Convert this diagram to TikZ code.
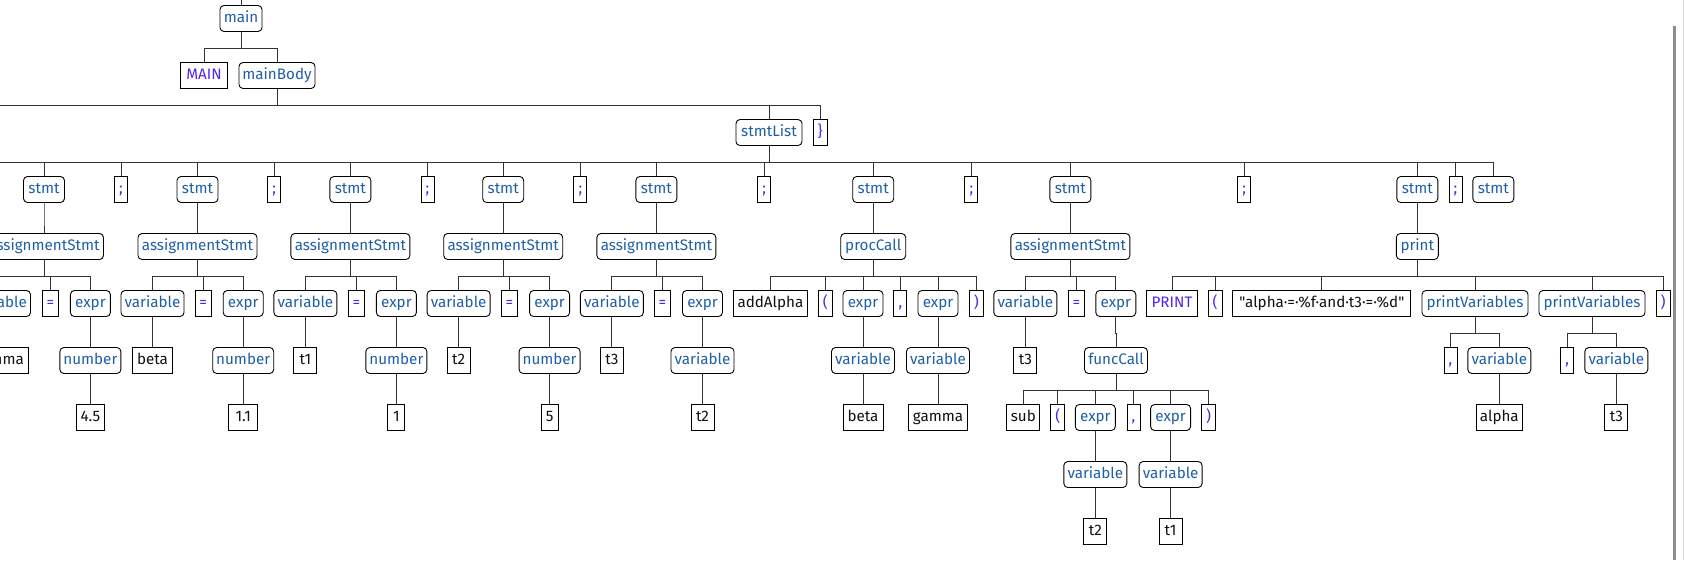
\documentclass[tikz,border=0pt]{standalone}
\usepackage{fontspec}
\setmainfont{Fira Sans}[Ligatures=TeXOff]
\definecolor{ruleblue}{HTML}{1F5FA6}
\definecolor{tokviolet}{HTML}{5522EE}
\definecolor{termblack}{HTML}{111111}
\definecolor{linegray}{HTML}{333333}
\definecolor{sbgray}{HTML}{8E8E8E}
\definecolor{edgegray}{HTML}{DADADA}
\newcommand\treefont{\fontsize{15.2}{17}\selectfont}
\newcommand\tedge[2]{\draw[conn] (#1.south) |- ([yshift=14pt]#2.north) -- (#2.north);}
\tikzset{
  box/.style={draw=black, line width=0.9pt, minimum height=26pt, inner xsep=2pt, inner ysep=0pt,
    font=\treefont, text height=11pt, text depth=3.5pt, fill=white},
  rule/.style={box, rounded corners=4pt, text=ruleblue},
  tok/.style={box, text=tokviolet},
  term/.style={box, text=termblack},
  w/.style={minimum width=#1},
  conn/.style={draw=linegray, line width=0.9pt},
}
\begin{document}
\begin{tikzpicture}[x=1pt,y=-1pt]
\clip (0,0) rectangle (1685,560);
\fill[white] (0,0) rectangle (1685,560);
% scrollbar
\fill[sbgray] (1672.7,26) rectangle (1676,560);
\draw[edgegray, line width=1pt] (1683.5,0) -- (1683.5,560);

% L0 - L2
\node[rule,w=42] (main) at (241,18.5) {main};
\coordinate (mtop) at (241,0);
\node[tok,w=47] (MAIN) at (204,75.5) {MAIN};
\node[rule,w=76] (mainBody) at (277,75.5) {mainBody};
\node[rule,w=66] (stmtList) at (769,132.5) {stmtList};
\node[tok,w=14] (rbrace) at (820,132.5) {\}};
\coordinate (mbL) at (0,105.5);
\coordinate (slL) at (0,162.5);

% L3
\node[rule,w=41] (s1) at (44,189.5) {stmt};
\node[tok,w=13] (c1) at (121,189.5) {;};
\node[rule,w=41] (s2) at (197.5,189.5) {stmt};
\node[tok,w=13] (c2) at (274.3,189.5) {;};
\node[rule,w=41] (s3) at (350.4,189.5) {stmt};
\node[tok,w=13] (c3) at (427.5,189.5) {;};
\node[rule,w=41] (s4) at (503.2,189.5) {stmt};
\node[tok,w=13] (c4) at (580.4,189.5) {;};
\node[rule,w=41] (s5) at (656.4,189.5) {stmt};
\node[tok,w=13] (c5) at (764.3,189.5) {;};
\node[rule,w=41] (s6) at (873.2,189.5) {stmt};
\node[tok,w=13] (c6) at (971.4,189.5) {;};
\node[rule,w=41] (s7) at (1070.4,189.5) {stmt};
\node[tok,w=13] (c7) at (1244.3,189.5) {;};
\node[rule,w=41] (s8) at (1417.3,189.5) {stmt};
\node[tok,w=13] (c8) at (1455.5,189.5) {;};
\node[rule,w=41] (s9) at (1493.3,189.5) {stmt};

% L4
\node[rule,w=119] (a1) at (44,246.5) {assignmentStmt};
\node[rule,w=119] (a2) at (197.5,246.5) {assignmentStmt};
\node[rule,w=119] (a3) at (350.4,246.5) {assignmentStmt};
\node[rule,w=119] (a4) at (503.2,246.5) {assignmentStmt};
\node[rule,w=119] (a5) at (656.4,246.5) {assignmentStmt};
\node[rule,w=65] (pc) at (873.2,246.5) {procCall};
\node[rule,w=119] (a7) at (1070.4,246.5) {assignmentStmt};
\node[rule,w=42] (pr) at (1417.3,246.5) {print};

% L5 assignment children
\node[rule,w=63] (v1) at (-1,303.5) {variable};
\node[tok,w=16.5] (q1) at (50.4,303.5) {=};
\node[rule,w=40] (x1) at (90.4,303.5) {expr};
\node[rule,w=63] (v2) at (152.5,303.5) {variable};
\node[tok,w=16.5] (q2) at (203.2,303.5) {=};
\node[rule,w=40] (x2) at (243.2,303.5) {expr};
\node[rule,w=63] (v3) at (305.4,303.5) {variable};
\node[tok,w=16.5] (q3) at (356.4,303.5) {=};
\node[rule,w=40] (x3) at (396.4,303.5) {expr};
\node[rule,w=63] (v4) at (458.6,303.5) {variable};
\node[tok,w=16.5] (q4) at (509.3,303.5) {=};
\node[rule,w=40] (x4) at (549.6,303.5) {expr};
\node[rule,w=63] (v5) at (611.8,303.5) {variable};
\node[tok,w=16.5] (q5) at (662.5,303.5) {=};
\node[rule,w=40] (x5) at (702.5,303.5) {expr};
% procCall children
\node[term,w=74] (addA) at (770.4,303.5) {addAlpha};
\node[tok,w=14] (plp) at (825.4,303.5) {(};
\node[rule,w=40] (pe1) at (863,303.5) {expr};
\node[tok,w=13] (pcm) at (900.4,303.5) {,};
\node[rule,w=40] (pe2) at (938,303.5) {expr};
\node[tok,w=14] (prp) at (976.4,303.5) {)};
% assignment 7 children
\node[rule,w=63] (v7) at (1025.3,303.5) {variable};
\node[tok,w=16.5] (q7) at (1076.4,303.5) {=};
\node[rule,w=40] (x7) at (1115.8,303.5) {expr};
% print children
\node[tok,w=50.5] (PRINT) at (1172,303.5) {PRINT};
\node[tok,w=14] (rlp) at (1215,303.5) {(};
\node[term,w=178] (str) at (1321.8,303.5) {"alpha·=·\%f·and·t3·=·\%d"};
\node[rule,w=106] (pv1) at (1475,303.5) {printVariables};
\node[rule,w=106] (pv2) at (1592,303.5) {printVariables};
\node[tok,w=14] (rrp) at (1663,303.5) {)};

% L6
\node[term,w=59] (g1) at (-1.3,360.5) {gamma};
\node[rule,w=61] (n1) at (90.4,360.5) {number};
\node[term,w=40] (b2) at (152.5,360.5) {beta};
\node[rule,w=61] (n2) at (243.2,360.5) {number};
\node[term,w=23] (t13) at (305.4,360.5) {t1};
\node[rule,w=61] (n3) at (396.4,360.5) {number};
\node[term,w=23] (t24) at (458.6,360.5) {t2};
\node[rule,w=61] (n4) at (549.6,360.5) {number};
\node[term,w=23] (t35) at (611.8,360.5) {t3};
\node[rule,w=63] (vv5) at (702.5,360.5) {variable};
\node[rule,w=63] (pv1v) at (863,360.5) {variable};
\node[rule,w=63] (pv2v) at (938,360.5) {variable};
\node[term,w=23] (t37) at (1025.3,360.5) {t3};
\node[rule,w=63] (fc) at (1116,360.5) {funcCall};
\node[tok,w=13] (pcm1) at (1450.5,360.5) {,};
\node[rule,w=63] (pvv1) at (1499.3,360.5) {variable};
\node[tok,w=13] (pcm2) at (1567.2,360.5) {,};
\node[rule,w=63] (pvv2) at (1616.3,360.5) {variable};

% L7
\node[term,w=28.6] (k1) at (90.4,417.5) {4.5};
\node[term,w=28.6] (k2) at (243.2,417.5) {1.1};
\node[term,w=17] (k3) at (396.4,417.5) {1};
\node[term,w=17] (k4) at (549.6,417.5) {5};
\node[term,w=23] (k5) at (702.5,417.5) {t2};
\node[term,w=40] (kb) at (863,417.5) {beta};
\node[term,w=59] (kg) at (938,417.5) {gamma};
\node[term,w=33] (fsub) at (1023.3,417.5) {sub};
\node[tok,w=14] (flp) at (1057.7,417.5) {(};
\node[rule,w=40] (fe1) at (1095.3,417.5) {expr};
\node[tok,w=13] (fcm) at (1133.5,417.5) {,};
\node[rule,w=40] (fe2) at (1170.6,417.5) {expr};
\node[tok,w=14] (frp) at (1208.6,417.5) {)};
\node[term,w=46] (kal) at (1499.3,417.5) {alpha};
\node[term,w=23] (kt3) at (1616.3,417.5) {t3};

% L8 - L9
\node[rule,w=63] (fv1) at (1095.3,474.5) {variable};
\node[rule,w=63] (fv2) at (1170.6,474.5) {variable};
\node[term,w=23] (ft2) at (1095.3,531.5) {t2};
\node[term,w=23] (ft1) at (1170.6,531.5) {t1};

% connectors
\draw[conn] (mtop) -- (main.north);
\tedge{main}{MAIN}\tedge{main}{mainBody}
\draw[conn] (mainBody.south) |- (mbL);
\tedge{mainBody}{stmtList}\tedge{mainBody}{rbrace}
\draw[conn] (stmtList.south) |- (slL);
\foreach \n in {s1,c1,s2,c2,s3,c3,s4,c4,s5,c5,s6,c6,s7,c7,s8,c8,s9}{\tedge{stmtList}{\n}}
\tedge{s1}{a1}\tedge{s2}{a2}\tedge{s3}{a3}\tedge{s4}{a4}\tedge{s5}{a5}
\tedge{s6}{pc}\tedge{s7}{a7}\tedge{s8}{pr}
\foreach \i in {1,2,3,4,5,7}{\tedge{a\i}{v\i}\tedge{a\i}{q\i}\tedge{a\i}{x\i}}
\tedge{v1}{g1}\tedge{x1}{n1}\tedge{n1}{k1}
\tedge{v2}{b2}\tedge{x2}{n2}\tedge{n2}{k2}
\tedge{v3}{t13}\tedge{x3}{n3}\tedge{n3}{k3}
\tedge{v4}{t24}\tedge{x4}{n4}\tedge{n4}{k4}
\tedge{v5}{t35}\tedge{x5}{vv5}\tedge{vv5}{k5}
\foreach \n in {addA,plp,pe1,pcm,pe2,prp}{\tedge{pc}{\n}}
\tedge{pe1}{pv1v}\tedge{pe2}{pv2v}\tedge{pv1v}{kb}\tedge{pv2v}{kg}
\tedge{v7}{t37}\tedge{x7}{fc}
\foreach \n in {fsub,flp,fe1,fcm,fe2,frp}{\tedge{fc}{\n}}
\tedge{fe1}{fv1}\tedge{fe2}{fv2}\tedge{fv1}{ft2}\tedge{fv2}{ft1}
\foreach \n in {PRINT,rlp,str,pv1,pv2,rrp}{\tedge{pr}{\n}}
\tedge{pv1}{pcm1}\tedge{pv1}{pvv1}\tedge{pvv1}{kal}
\tedge{pv2}{pcm2}\tedge{pv2}{pvv2}\tedge{pvv2}{kt3}
\end{tikzpicture}
\end{document}
